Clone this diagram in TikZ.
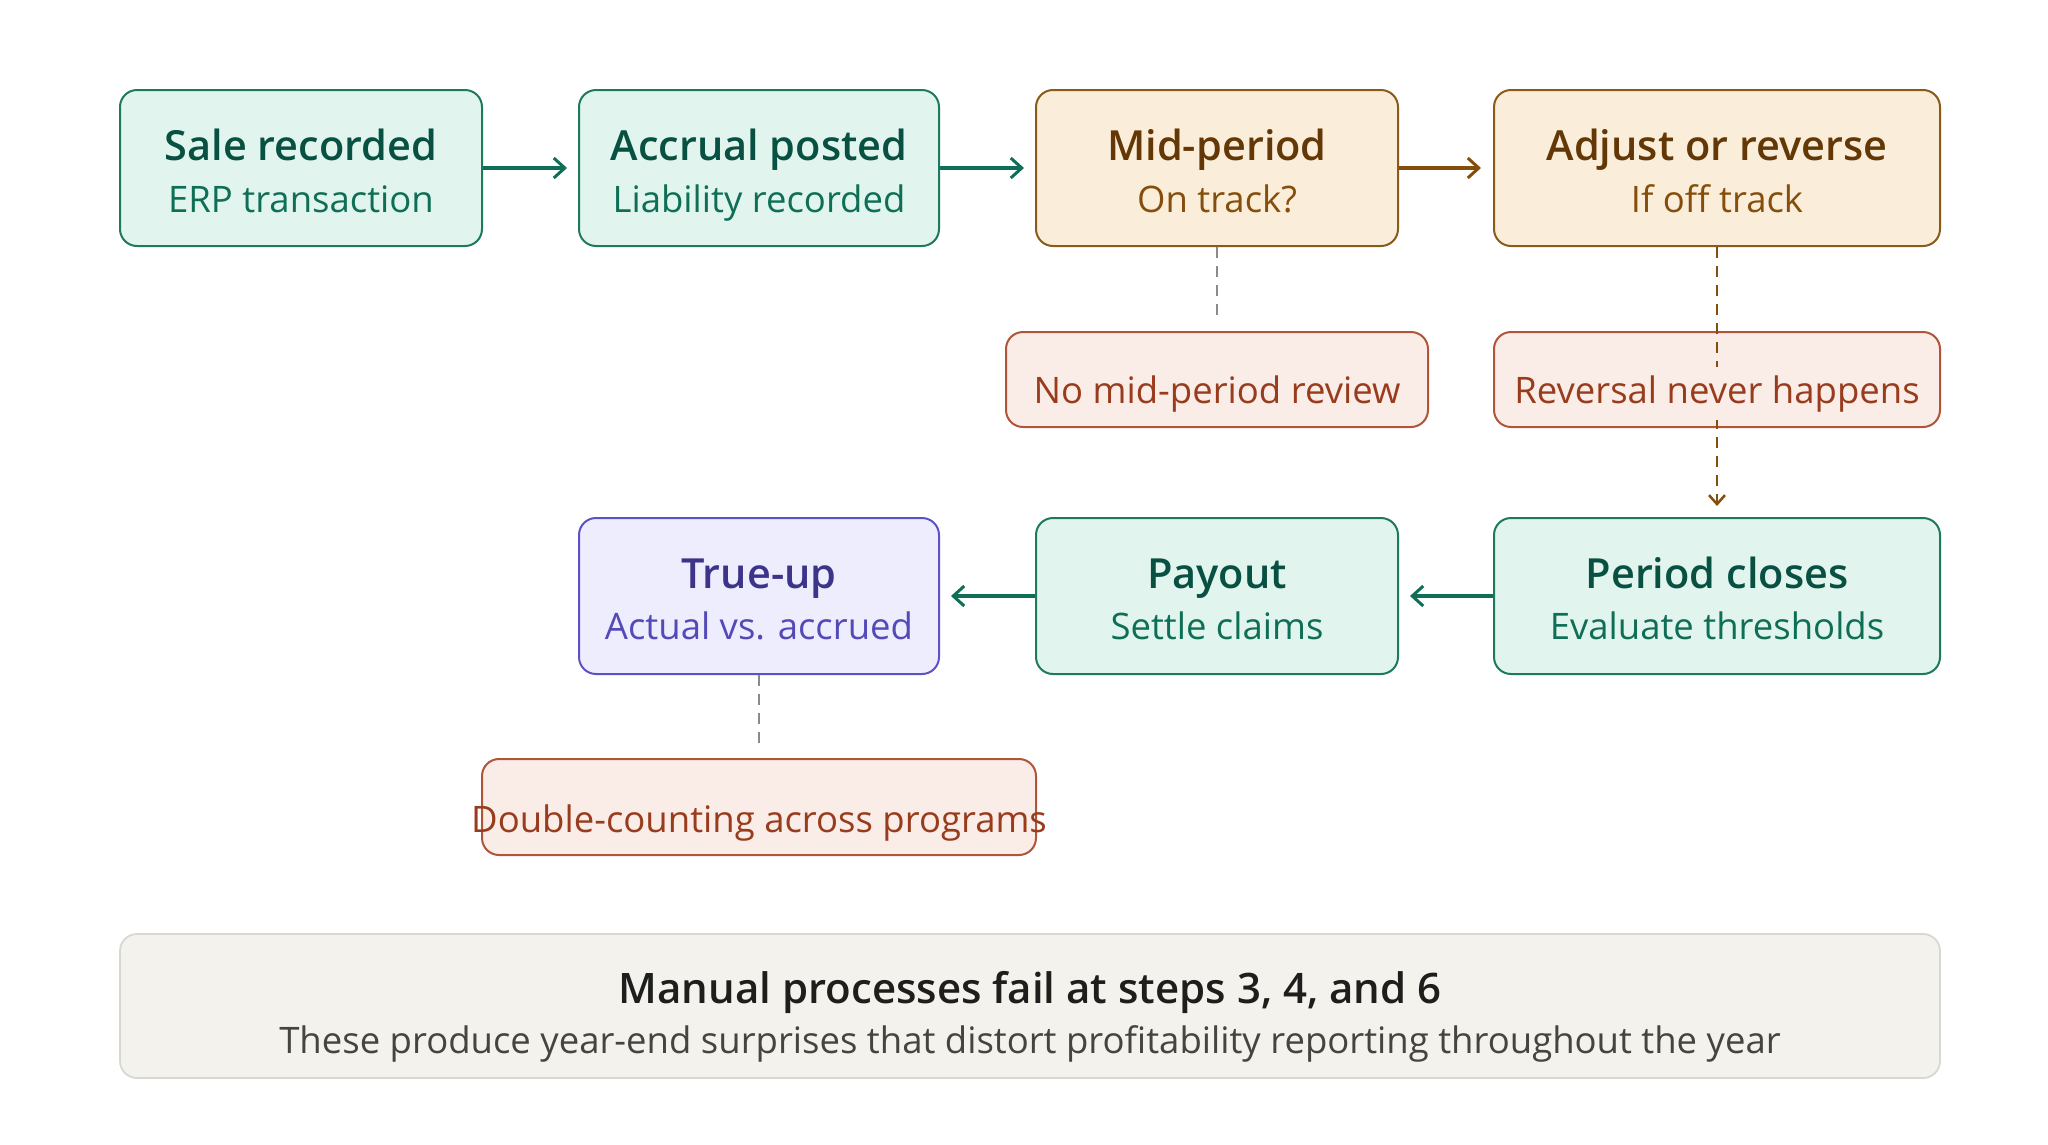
\documentclass[tikz,border=0pt]{standalone}
\usepackage{fontspec}
\setmainfont{Open Sans}
\newfontfamily\semib{Open Sans Semibold}
\usetikzlibrary{arrows.meta}
\definecolor{tealF}{HTML}{E1F5EE}
\definecolor{tealS}{HTML}{1D7A5E}
\definecolor{tealT}{HTML}{085041}
\definecolor{tealU}{HTML}{0F6E56}
\definecolor{ambF}{HTML}{FAEEDA}
\definecolor{ambS}{HTML}{8A5A1A}
\definecolor{ambT}{HTML}{633806}
\definecolor{ambU}{HTML}{854F0B}
\definecolor{corF}{HTML}{FAECE7}
\definecolor{corS}{HTML}{B0553A}
\definecolor{corT}{HTML}{993C1D}
\definecolor{purF}{HTML}{EEEDFE}
\definecolor{purS}{HTML}{5B52C8}
\definecolor{purT}{HTML}{3C3489}
\definecolor{purU}{HTML}{534AB7}
\definecolor{gryF}{HTML}{F3F2EC}
\definecolor{gryS}{HTML}{D8D7D0}
\definecolor{gryT}{HTML}{1E1E1C}
\definecolor{gryU}{HTML}{444441}
\definecolor{dashG}{HTML}{8A8A86}
\begin{document}
\begin{tikzpicture}[x=1pt,y=-1pt,
  box/.style={draw, rounded corners=17pt, line width=2pt, minimum height=156pt, inner sep=0pt},
  greenbox/.style={box, draw=tealS, fill=tealF},
  amberbox/.style={box, draw=ambS, fill=ambF},
  purbox/.style={box, draw=purS, fill=purF},
  redbox/.style={draw=corS, fill=corF, rounded corners=17pt, line width=2pt, minimum height=95pt, inner sep=0pt},
  ttl/.style={anchor=base, inner sep=0pt, font=\semib\fontsize{41.5}{46}\selectfont},
  sub/.style={anchor=base, inner sep=0pt, font=\fontsize{36.5}{42}\selectfont},
  redtxt/.style={anchor=base, inner xsep=2pt, inner ysep=8pt, fill=corF, text=corT, font=\fontsize{36.5}{42}\selectfont},
  garrow/.style={draw=tealU, line width=3.2pt, -{Straight Barb[length=11pt,width=20pt,line width=3pt]}},
  barrow/.style={draw=ambU, line width=3.2pt, -{Straight Barb[length=11pt,width=20pt,line width=3pt]}},
  bdash/.style={draw=ambU, line width=2.7pt, dash pattern=on 11pt off 8pt, -{Straight Barb[length=9pt,width=16pt,line width=2.5pt]}},
  gdash/.style={draw=dashG, line width=1.8pt, dash pattern=on 11pt off 8pt}
]
\useasboundingbox (0,0) rectangle (2048,1144);

% top row
\node[greenbox, minimum width=362pt] (b1) at (301,168) {};
\node[greenbox, minimum width=360pt] (b2) at (759,168) {};
\node[amberbox, minimum width=362pt] (b3) at (1217,168) {};
\node[amberbox, minimum width=446pt] (b4) at (1717,168) {};
% failure boxes
\node[redbox, minimum width=422pt] (r1) at (1217,379.5) {};
\node[redbox, minimum width=446pt] (r2) at (1717,379.5) {};
% second row
\node[purbox, minimum width=360pt] (tu) at (759,596) {};
\node[greenbox, minimum width=362pt] (po) at (1217,596) {};
\node[greenbox, minimum width=446pt] (pc) at (1717,596) {};
\node[redbox, minimum width=554pt, minimum height=96pt] (r3) at (759,807) {};
% bottom note
\node[draw=gryS, fill=gryF, rounded corners=17pt, line width=1.8pt, minimum width=1820pt, minimum height=144pt, inner sep=0pt] (note) at (1030,1006) {};

% connectors
\draw[garrow] (b1.east) -- ([xshift=-11pt]b2.west);
\draw[garrow] (b2.east) -- ([xshift=-11pt]b3.west);
\draw[barrow] (b3.east) -- ([xshift=-12pt]b4.west);
\draw[gdash] (b3.south) -- ([yshift=10pt]r1.north);
\draw[bdash] (b4.south) -- ([yshift=11pt]pc.north);
\draw[garrow] (pc.west) -- ([xshift=11pt]po.east);
\draw[garrow] (po.west) -- ([xshift=11pt]tu.east);
\draw[gdash] (tu.south) -- ([yshift=8pt]r3.north);

% labels
\node[ttl, text=tealT] (b1t) at (301,160) {Sale recorded};
\node[sub, text=tealU] (b1s) at (301,212) {ERP transaction};
\node[ttl, text=tealT] (b2t) at (759,160) {Accrual posted};
\node[sub, text=tealU] (b2s) at (759,212) {Liability recorded};
\node[ttl, text=ambT] (b3t) at (1217,160) {Mid-period};
\node[sub, text=ambU] (b3s) at (1217,212) {On track?};
\node[ttl, text=ambT] (b4t) at (1717,160) {Adjust or reverse};
\node[sub, text=ambU] (b4s) at (1717,212) {If off track};

\node[redtxt] (r1l) at (1217,403) {No mid-period review};
\node[redtxt] (r2l) at (1717,403) {Reversal never happens};

\node[ttl, text=purT] (tut) at (759,588) {True-up};
\node[sub, text=purU] (tus) at (759,639) {Actual vs. accrued};
\node[ttl, text=tealT] (pot) at (1217,588) {Payout};
\node[sub, text=tealU] (pos) at (1217,639) {Settle claims};
\node[ttl, text=tealT] (pct) at (1717,588) {Period closes};
\node[sub, text=tealU] (pcs) at (1717,639) {Evaluate thresholds};

\node[anchor=base, inner sep=0pt, text=corT, font=\fontsize{36.5}{42}\selectfont] (r3l) at (759,832) {Double-counting across programs};

\node[anchor=base, inner sep=0pt, text=gryT, font=\semib\fontsize{42}{46}\selectfont] (nt) at (1030,1003) {Manual processes fail at steps 3, 4, and 6};
\node[anchor=base, inner sep=0pt, text=gryU, font=\fontsize{36.5}{42}\selectfont] (ns) at (1030,1053) {These produce year-end surprises that distort profitability reporting throughout the year};
\end{tikzpicture}
\end{document}
